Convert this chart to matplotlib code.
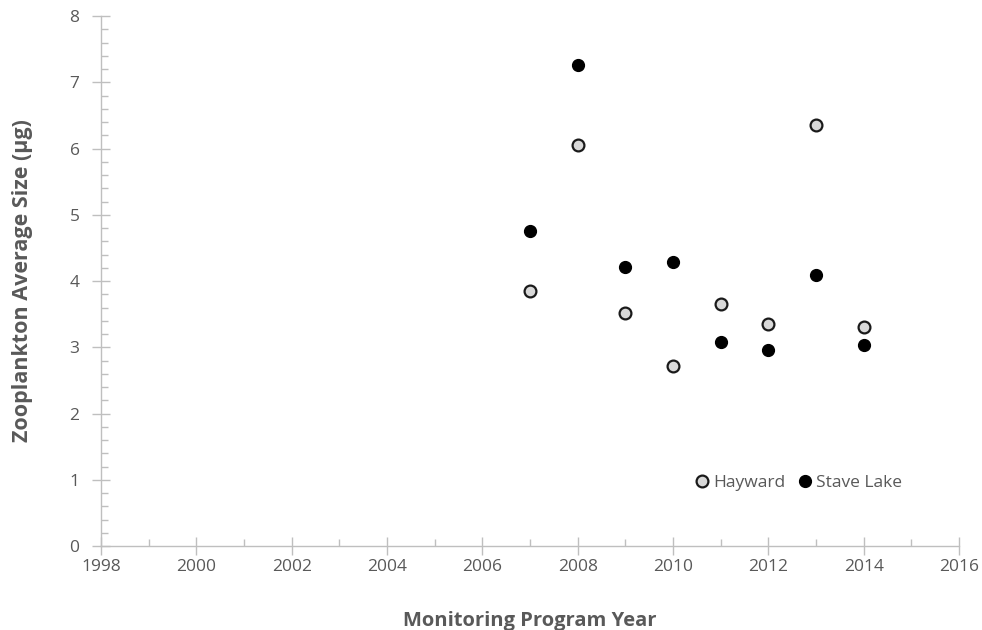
import matplotlib.pyplot as plt
from matplotlib.ticker import MultipleLocator

# values
years = [2007, 2008, 2009, 2010, 2011, 2012, 2013, 2014]
hayward = [3.85, 6.06, 3.52, 2.72, 3.65, 3.35, 6.35, 3.31]
stave_lake = [4.76, 7.26, 4.21, 4.29, 3.08, 2.96, 4.09, 3.03]

plt.rcParams['font.family'] = ['Open Sans', 'DejaVu Sans']
grey = '#595959'
axis_grey = '#bfbfbf'

fig = plt.figure(figsize=(9.82, 6.3), dpi=100)
ax = fig.add_axes([0.1029, 0.1333, 0.8737, 0.8413])

ax.plot(years, hayward, 'o', ms=8.5, mfc='#d9d9d9', mec='#1a1a1a', mew=1.6,
        label='Hayward', zorder=3)
ax.plot(years, stave_lake, 'o', ms=8.5, mfc='black', mec='black', mew=1.0,
        label='Stave Lake', zorder=3)

ax.set_xlim(1998, 2016)
ax.set_ylim(0, 8)
ax.xaxis.set_major_locator(MultipleLocator(2))
ax.xaxis.set_minor_locator(MultipleLocator(1))
ax.yaxis.set_major_locator(MultipleLocator(1))
ax.yaxis.set_minor_locator(MultipleLocator(0.2))

for side in ['top', 'right']:
    ax.spines[side].set_visible(False)
for side in ['left', 'bottom']:
    ax.spines[side].set_color(axis_grey)
    ax.spines[side].set_linewidth(1.0)

ax.tick_params(which='major', direction='inout', length=13, width=1.0,
               color=axis_grey, labelcolor=grey, labelsize=12.5)
ax.tick_params(which='minor', direction='in', length=5, width=1.0,
               color=axis_grey)
ax.tick_params(axis='x', which='major', pad=3)
ax.tick_params(axis='y', which='major', pad=9)

ax.set_xlabel('Monitoring Program Year', fontsize=14.5, fontweight='bold',
              color=grey, labelpad=26)
ax.set_ylabel('Zooplankton Average Size (µg)', fontsize=15.5, fontweight='bold',
              color=grey, labelpad=26)

ax.legend(loc='lower left', bbox_to_anchor=(0.67, 0.075), ncol=2, frameon=False,
          fontsize=12.5, handletextpad=0.05, columnspacing=0.5,
          handlelength=1.2, labelcolor=grey)

fig.savefig('out.png', dpi=100)
